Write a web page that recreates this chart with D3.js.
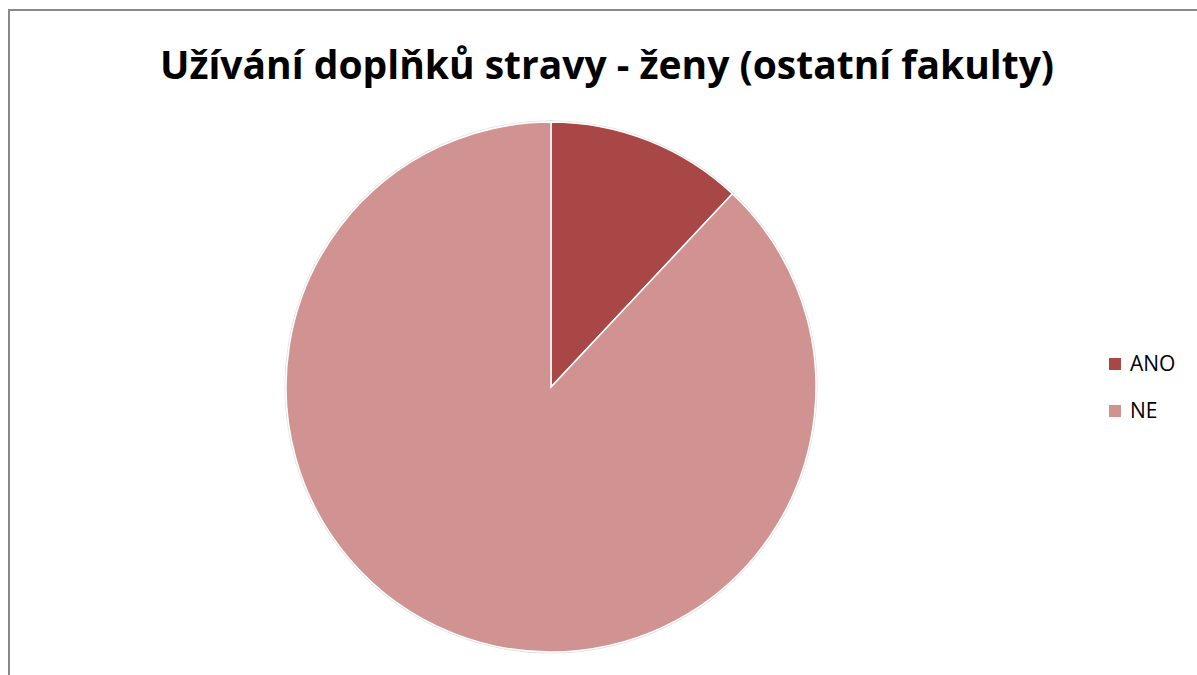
<!DOCTYPE html>
<html>
<head>
<meta charset="utf-8">
<script src="https://cdn.jsdelivr.net/npm/d3@7"></script>
<style>
  body { margin: 0; background: #fff; }
  svg { display: block; }
</style>
</head>
<body>
<svg class="chart" width="1197" height="675"></svg>
<script>
var categories = ["ANO", "NE"];
var values = [12, 88];
var colors = ["#A84745", "#D19392"];
var title = "Užívání doplňků stravy - ženy (ostatní fakulty)";

var WIDTH = 1197, HEIGHT = 675;
var CX = 551, CY = 387, RADIUS = 265;

var svg = d3.select('.chart');

// chart frame, cut off at right and bottom
svg.append('rect')
  .attr('x', 9).attr('y', 10)
  .attr('width', 1200).attr('height', 700)
  .attr('fill', 'none')
  .attr('stroke', '#898989')
  .attr('stroke-width', 2);

svg.append('text')
  .attr('x', 607).attr('y', 79)
  .attr('text-anchor', 'middle')
  .style('font-family', '"Open Sans", sans-serif')
  .style('font-weight', 'bold')
  .style('font-size', '39px')
  .text(title);

var data = categories.map(function(c, i){ return {name: c, value: values[i], color: colors[i]}; });

var pie = d3.pie().sort(null).value(function(d){ return d.value; });
var arc = d3.arc().innerRadius(0).outerRadius(RADIUS);

var g = svg.append('g').attr('transform', 'translate(' + CX + ',' + CY + ')');

g.selectAll('path.shadow')
  .data(pie(data))
  .enter().append('path')
  .attr('d', arc)
  .attr('fill', 'none')
  .attr('stroke', 'rgba(0,0,0,0.12)')
  .attr('stroke-width', 3);

g.selectAll('path.slice')
  .data(pie(data))
  .enter().append('path')
  .attr('class', 'slice')
  .attr('d', arc)
  .attr('fill', function(d){ return d.data.color; })
  .attr('stroke', '#fff')
  .attr('stroke-width', 1.5);

var legend = svg.append('g').attr('transform', 'translate(1109,358)');
var items = legend.selectAll('g')
  .data(data)
  .enter().append('g')
  .attr('transform', function(d, i){ return 'translate(0,' + (i * 47) + ')'; });

items.append('rect')
  .attr('width', 12).attr('height', 12)
  .attr('fill', function(d){ return d.color; });

items.append('text')
  .attr('x', 21).attr('y', 12.5)
  .style('font-family', '"Open Sans", sans-serif')
  .style('font-size', '21px')
  .text(function(d){ return d.name; });
</script>
</body>
</html>
